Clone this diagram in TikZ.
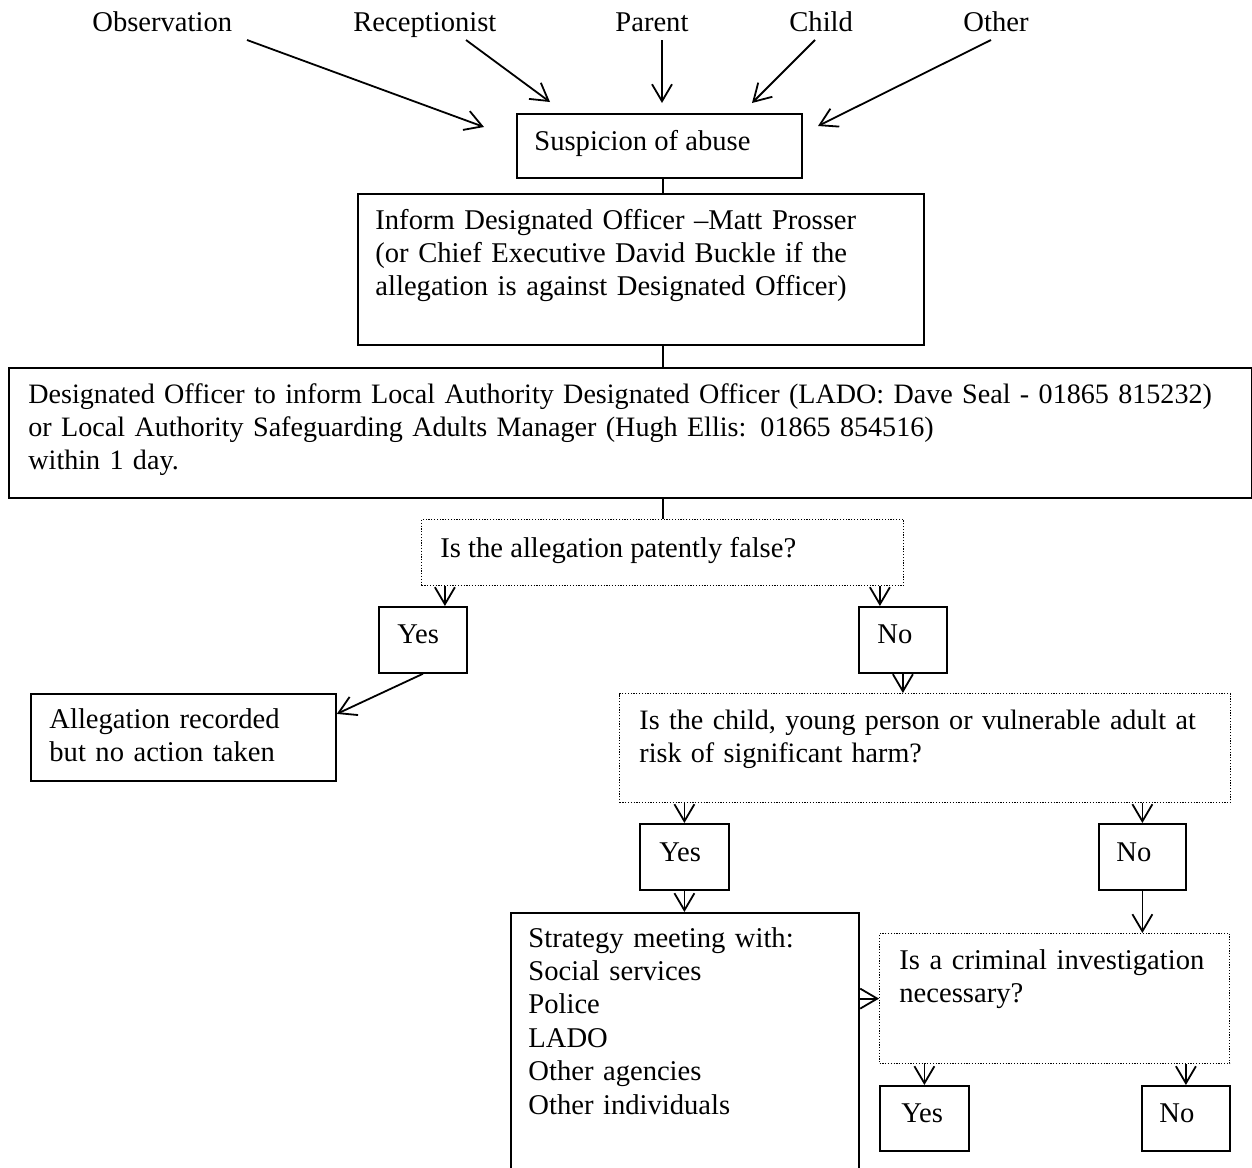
\documentclass[tikz,border=0pt]{standalone}
\usepackage{fontspec}
\setmainfont{Liberation Serif}
\usetikzlibrary{arrows.meta,calc}
\begin{document}
\begin{tikzpicture}[x=0.5pt,y=-0.5pt,
  txt/.style={font=\fontsize{14.3}{16.7}\selectfont, inner sep=0pt, align=left, anchor=base west},
  txtn/.style={txt, font=\fontsize{14.05}{16.7}\selectfont},
  box/.style={draw, line width=0.9pt, inner sep=0pt, anchor=north west},
  qbox/.style={draw, line width=0.6pt, dash pattern=on 0.6pt off 0.8pt, inner sep=0pt, anchor=north west},
  ln/.style={line width=0.9pt},
  arr/.style={line width=0.9pt, -{Straight Barb[length=8.5pt,width=10pt]}}]
\clip (0,0) rectangle (1252,1167);
\fill[white] (0,0) rectangle (1252,1167);
% sources
\node[txt] (tobs) at (92,32) {Observation};
\node[txt] (trec) at (353,32) {Receptionist};
\node[txt] (tpar) at (615,32) {Parent};
\node[txt] (tchi) at (789,32) {Child};
\node[txt] (toth) at (963,32) {Other};
\coordinate (obsA) at (247,40); \coordinate (obsB) at (484,127);
\coordinate (recA) at (466,40); \coordinate (recB) at (550,102);
\coordinate (parA) at (662,40); \coordinate (parB) at (662,103);
\coordinate (chiA) at (815,40); \coordinate (chiB) at (752,103);
\coordinate (othA) at (991,40); \coordinate (othB) at (818,126);
\draw[arr] (obsA) -- (obsB);
\draw[arr] (recA) -- (recB);
\draw[arr] (parA) -- (parB);
\draw[arr] (chiA) -- (chiB);
\draw[arr] (othA) -- (othB);
% boxes
\node[box, minimum width=142.5pt, minimum height=32pt] (sbox) at (516,113) {};
\node[box, minimum width=283pt, minimum height=75.5pt] (ibox) at (357,193) {};
\node[box, minimum width=621.5pt, minimum height=65pt] (dbox) at (8,367) {};
\node[qbox, minimum width=241pt, minimum height=33pt] (q1) at (421,519) {};
\node[box, minimum width=44pt, minimum height=33pt] (y1) at (378,606) {};
\node[box, minimum width=44pt, minimum height=33pt] (n1) at (858,606) {};
\node[box, minimum width=152.5pt, minimum height=43.5pt] (abox) at (30,693) {};
\node[qbox, minimum width=305.5pt, minimum height=54.5pt] (q2) at (619,693) {};
\node[box, minimum width=44.5pt, minimum height=33pt] (y2) at (639,823) {};
\node[box, minimum width=43.5pt, minimum height=33pt] (n2) at (1098,823) {};
\node[box, minimum width=174pt, minimum height=150pt] (sm) at (510,912) {};
\node[qbox, minimum width=175pt, minimum height=65pt] (q3) at (879,933) {};
\node[box, minimum width=44.5pt, minimum height=32.5pt] (y3) at (879,1085) {};
\node[box, minimum width=44pt, minimum height=32.5pt] (n3) at (1141,1085) {};
% texts
\node[txt] (ts) at (534,150) {Suspicion of abuse};
\node[txt, text width=300pt] (ti) at (375,229) {Inform Designated Officer –Matt Prosser\\(or Chief Executive David Buckle if the\\allegation is against Designated Officer)};
\node[txtn, text width=615pt] (td) at (28,403) {Designated Officer to inform Local Authority Designated Officer (LADO: Dave Seal - 01865 815232)\\or Local Authority Safeguarding Adults Manager (Hugh Ellis: 01865 854516)\\within 1 day.};
\node[txt] (tq1) at (440,557) {Is the allegation patently false?};
\node[txt] (ty1) at (397,643) {Yes};
\node[txt] (tn1) at (877,643) {No};
\node[txt, text width=150pt] (ta) at (49,728) {Allegation recorded\\but no action taken};
\node[txtn, text width=300pt] (tq2) at (639,729) {Is the child, young person or vulnerable adult at\\risk of significant harm?};
\node[txt] (ty2) at (659,861) {Yes};
\node[txt] (tn2) at (1116,861) {No};
\node[txt, text width=170pt] (tsm) at (528,947) {Strategy meeting with:\\Social services\\Police\\LADO\\Other agencies\\Other individuals};
\node[txt, text width=170pt] (tq3) at (899,969) {Is a criminal investigation\\necessary?};
\node[txt] (ty3) at (901,1122) {Yes};
\node[txt] (tn3) at (1159,1122) {No};
% connectors
\draw[ln] ([xshift=1.75pt]sbox.south) -- ([xshift=1.75pt]sbox.south |- ibox.north);
\draw[ln] ([xshift=11pt]ibox.south) -- ([xshift=11pt]ibox.south |- dbox.north);
\draw[ln] ([xshift=16.25pt]dbox.south) -- ([xshift=16.25pt]dbox.south |- q1.north);
\draw[arr] ([xshift=11pt]y1.north |- q1.south) -- ([xshift=11pt]y1.north);
\draw[arr] ([xshift=-11.5pt]n1.north |- q1.south) -- ([xshift=-11.5pt]n1.north);
\draw[arr] (y1.south) -- ([yshift=11.75pt]abox.east);
\draw[arr] (n1.south) -- (n1.south |- q2.north);
\draw[arr] (y2.north |- q2.south) -- (y2.north);
\draw[arr] (n2.north |- q2.south) -- (n2.north);
\draw[arr] (y2.south) -- (y2.south |- sm.north);
\draw[arr] (n2.south) -- (n2.south |- q3.north);
\draw[arr] (sm.east |- q3.west) -- (q3.west);
\draw[arr] (y3.north |- q3.south) -- (y3.north);
\draw[arr] (n3.north |- q3.south) -- (n3.north);
\end{tikzpicture}
\end{document}
